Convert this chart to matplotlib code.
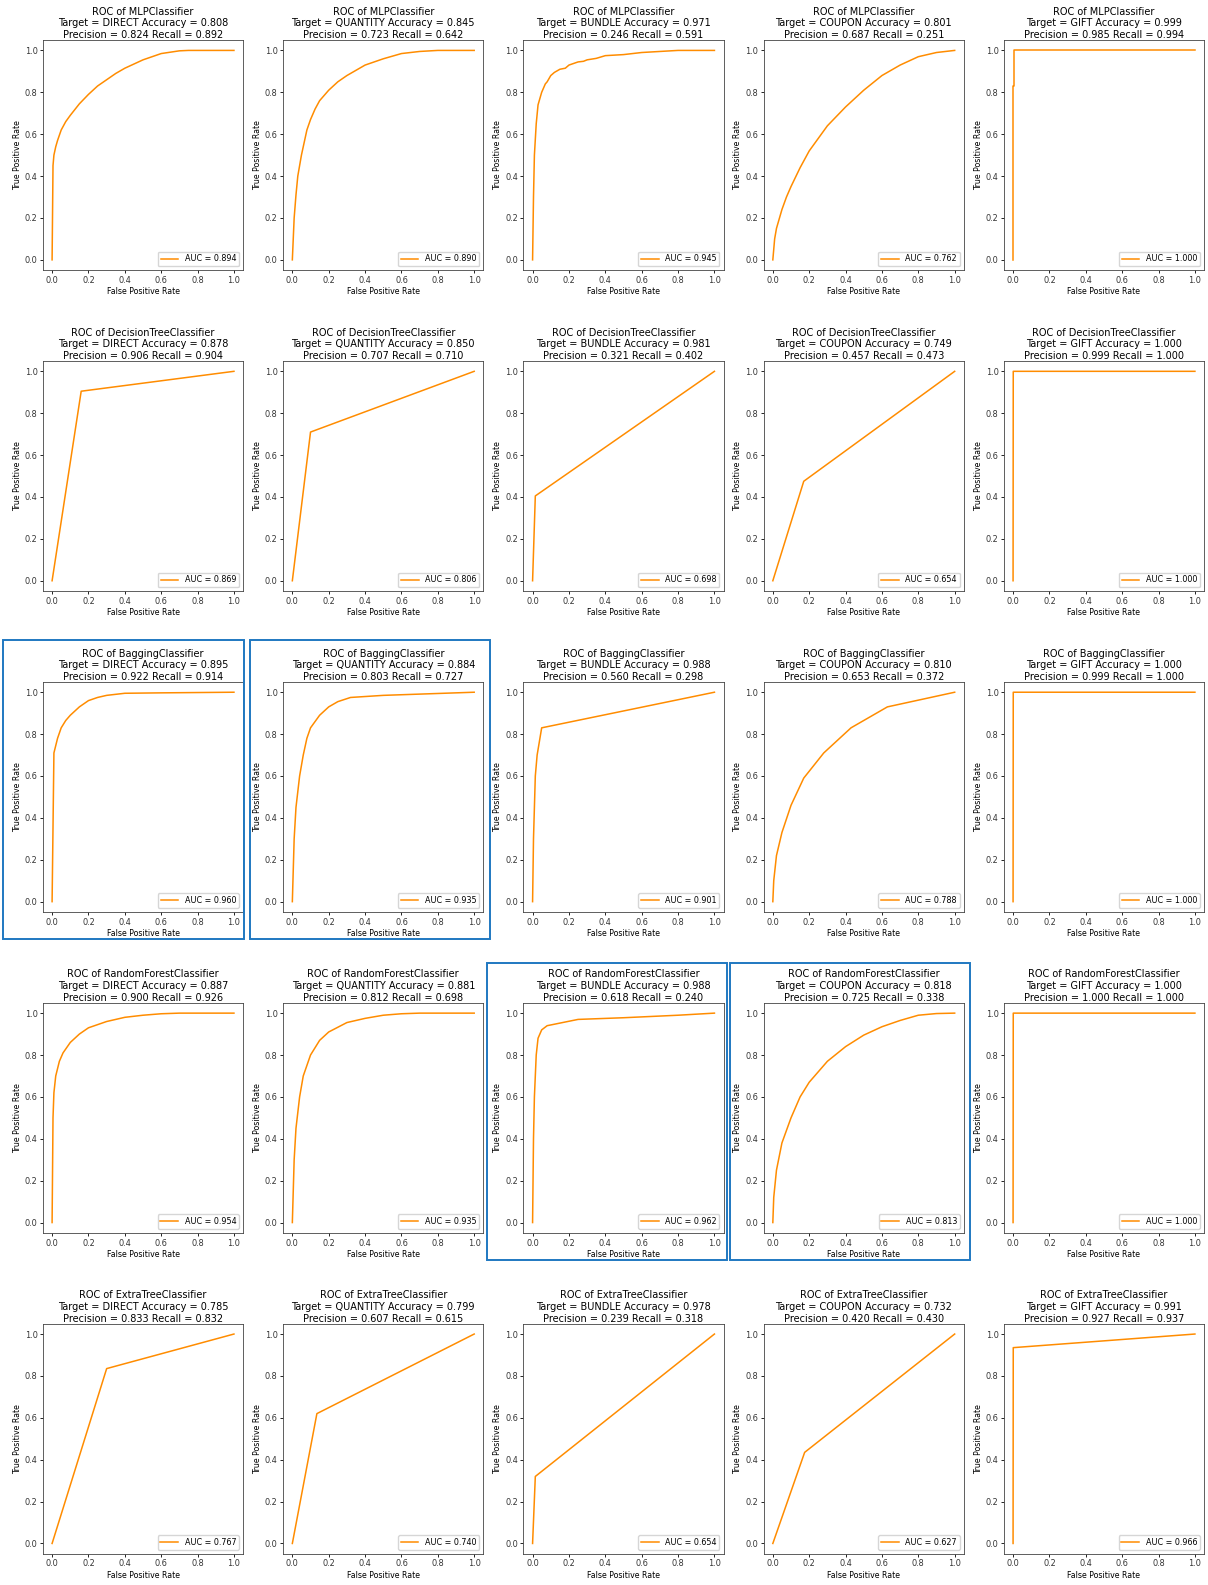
import matplotlib

matplotlib.use("Agg")
import matplotlib.pyplot as plt
from matplotlib.patches import Rectangle

models = ["MLPClassifier", "DecisionTreeClassifier", "BaggingClassifier",
          "RandomForestClassifier", "ExtraTreeClassifier"]
targets = ["DIRECT", "QUANTITY", "BUNDLE", "COUPON", "GIFT"]

accuracy = [
    [0.808, 0.845, 0.971, 0.801, 0.999],
    [0.878, 0.850, 0.981, 0.749, 1.000],
    [0.895, 0.884, 0.988, 0.810, 1.000],
    [0.887, 0.881, 0.988, 0.818, 1.000],
    [0.785, 0.799, 0.978, 0.732, 0.991],
]
precision = [
    [0.824, 0.723, 0.246, 0.687, 0.985],
    [0.906, 0.707, 0.321, 0.457, 0.999],
    [0.922, 0.803, 0.560, 0.653, 0.999],
    [0.900, 0.812, 0.618, 0.725, 1.000],
    [0.833, 0.607, 0.239, 0.420, 0.927],
]
recall = [
    [0.892, 0.642, 0.591, 0.251, 0.994],
    [0.904, 0.710, 0.402, 0.473, 1.000],
    [0.914, 0.727, 0.298, 0.372, 1.000],
    [0.926, 0.698, 0.240, 0.338, 1.000],
    [0.832, 0.615, 0.318, 0.430, 0.937],
]
auc = [
    [0.894, 0.890, 0.945, 0.762, 1.000],
    [0.869, 0.806, 0.698, 0.654, 1.000],
    [0.960, 0.935, 0.901, 0.788, 1.000],
    [0.954, 0.935, 0.962, 0.813, 1.000],
    [0.767, 0.740, 0.654, 0.627, 0.966],
]

# (fpr, tpr)
curves = [
    [
        ([0, 0.005, 0.01, 0.02, 0.03, 0.05, 0.075, 0.1, 0.15, 0.2, 0.25, 0.3, 0.35, 0.4, 0.5, 0.6, 0.7, 0.75, 1.0],
         [0, 0.45, 0.5, 0.54, 0.57, 0.62, 0.66, 0.69, 0.745, 0.79, 0.83, 0.86, 0.89, 0.915, 0.955, 0.985, 0.998, 1.0, 1.0]),
        ([0, 0.01, 0.02, 0.03, 0.05, 0.08, 0.1, 0.125, 0.15, 0.2, 0.25, 0.3, 0.4, 0.5, 0.6, 0.7, 0.8, 1.0],
         [0, 0.2, 0.31, 0.4, 0.5, 0.62, 0.67, 0.72, 0.76, 0.81, 0.85, 0.88, 0.93, 0.96, 0.985, 0.995, 1.0, 1.0]),
        ([0, 0.005, 0.01, 0.02, 0.03, 0.05, 0.07, 0.08, 0.1, 0.12, 0.15, 0.18, 0.2, 0.25, 0.28, 0.3, 0.35, 0.4, 0.5, 0.6, 0.7, 0.8, 1.0],
         [0, 0.3, 0.5, 0.65, 0.74, 0.8, 0.84, 0.85, 0.88, 0.895, 0.91, 0.915, 0.93, 0.945, 0.948, 0.955, 0.962, 0.975, 0.98, 0.99, 0.995, 1.0, 1.0]),
        ([0, 0.005, 0.01, 0.02, 0.03, 0.05, 0.075, 0.1, 0.15, 0.2, 0.25, 0.3, 0.4, 0.5, 0.6, 0.7, 0.8, 0.9, 1.0],
         [0, 0.05, 0.1, 0.15, 0.18, 0.24, 0.3, 0.35, 0.44, 0.52, 0.58, 0.64, 0.73, 0.81, 0.88, 0.93, 0.97, 0.99, 1.0]),
        ([0, 0, 0.005, 0.005, 1.0],
         [0, 0.83, 0.83, 1.0, 1.0]),
    ],
    [
        ([0, 0.16, 1.0], [0, 0.905, 1.0]),
        ([0, 0.1, 1.0], [0, 0.71, 1.0]),
        ([0, 0.015, 1.0], [0, 0.405, 1.0]),
        ([0, 0.17, 1.0], [0, 0.475, 1.0]),
        ([0, 0.001, 1.0], [0, 1.0, 1.0]),
    ],
    [
        ([0, 0.01, 0.02, 0.03, 0.05, 0.075, 0.1, 0.15, 0.2, 0.25, 0.3, 0.4, 0.6, 1.0],
         [0, 0.71, 0.745, 0.78, 0.83, 0.865, 0.89, 0.93, 0.96, 0.975, 0.985, 0.995, 0.997, 1.0]),
        ([0, 0.01, 0.02, 0.04, 0.06, 0.08, 0.1, 0.15, 0.2, 0.25, 0.32, 0.5, 1.0],
         [0, 0.3, 0.45, 0.6, 0.7, 0.78, 0.83, 0.89, 0.93, 0.955, 0.975, 0.985, 1.0]),
        ([0, 0.005, 0.015, 0.025, 0.05, 1.0],
         [0, 0.3, 0.6, 0.7, 0.83, 1.0]),
        ([0, 0.005, 0.02, 0.05, 0.1, 0.17, 0.28, 0.43, 0.63, 1.0],
         [0, 0.1, 0.22, 0.33, 0.46, 0.59, 0.71, 0.83, 0.93, 1.0]),
        ([0, 0.001, 1.0], [0, 1.0, 1.0]),
    ],
    [
        ([0, 0.005, 0.01, 0.02, 0.04, 0.06, 0.1, 0.15, 0.2, 0.3, 0.4, 0.5, 0.6, 0.7, 1.0],
         [0, 0.5, 0.62, 0.7, 0.77, 0.81, 0.86, 0.9, 0.93, 0.96, 0.98, 0.99, 0.997, 1.0, 1.0]),
        ([0, 0.01, 0.02, 0.04, 0.06, 0.1, 0.15, 0.2, 0.3, 0.4, 0.5, 0.6, 0.7, 1.0],
         [0, 0.3, 0.45, 0.6, 0.7, 0.8, 0.87, 0.91, 0.955, 0.975, 0.99, 0.997, 1.0, 1.0]),
        ([0, 0.005, 0.01, 0.02, 0.03, 0.05, 0.08, 0.25, 0.5, 0.8, 1.0],
         [0, 0.4, 0.6, 0.8, 0.88, 0.92, 0.94, 0.97, 0.978, 0.99, 1.0]),
        ([0, 0.005, 0.02, 0.05, 0.1, 0.15, 0.2, 0.3, 0.4, 0.5, 0.6, 0.7, 0.8, 0.9, 1.0],
         [0, 0.12, 0.25, 0.38, 0.5, 0.6, 0.67, 0.77, 0.84, 0.895, 0.935, 0.965, 0.99, 0.998, 1.0]),
        ([0, 0.001, 1.0], [0, 1.0, 1.0]),
    ],
    [
        ([0, 0.3, 1.0], [0, 0.835, 1.0]),
        ([0, 0.135, 1.0], [0, 0.62, 1.0]),
        ([0, 0.015, 1.0], [0, 0.32, 1.0]),
        ([0, 0.175, 1.0], [0, 0.435, 1.0]),
        ([0, 0.001, 1.0], [0, 0.935, 1.0]),
    ],
]

# hand-drawn highlight boxes, (left, top, right, bottom) in image pixels
highlight_boxes = [
    (3, 640, 244, 939),
    (250, 640, 490, 939),
    (487, 963, 727, 1260),
    (730, 963, 970, 1260),
]

W_PX, H_PX = 1208, 1585

plt.rcParams["font.size"] = 5.8
fig, axes = plt.subplots(5, 5, figsize=(W_PX / 100, H_PX / 100), dpi=100)
fig.subplots_adjust(left=0.0356, right=0.9967, top=0.9748, bottom=0.0196,
                    wspace=0.201, hspace=0.393)

for i, model in enumerate(models):
    for j, target in enumerate(targets):
        ax = axes[i][j]
        fpr, tpr = curves[i][j]
        ax.plot(fpr, tpr, color="darkorange", lw=1.1, label=f"AUC = {auc[i][j]:.3f}")
        ax.set_xlim(-0.05, 1.05)
        ax.set_ylim(-0.05, 1.05)
        ax.set_xlabel("False Positive Rate", fontsize=5.7, labelpad=1.5)
        ax.set_ylabel("True Positive Rate", fontsize=5.7, labelpad=2)
        ax.tick_params(labelsize=5.9, length=2.5, width=0.6, pad=1.5,
                       labelcolor="#333333")
        for spine in ax.spines.values():
            spine.set_linewidth(0.6)
            spine.set_color("#444444")
        ax.set_title(f"ROC of {model}\nTarget = {target} Accuracy = {accuracy[i][j]:.3f}\n"
                     f"Precision = {precision[i][j]:.3f} Recall = {recall[i][j]:.3f}",
                     fontsize=7.05, pad=1.2, linespacing=1.2)
        ax.legend(loc="lower right", fontsize=5.8, handlelength=2.2, borderpad=0.35)

for left, top, right, bottom in highlight_boxes:
    fig.patches.append(Rectangle((left / W_PX, 1 - bottom / H_PX),
                                 (right - left) / W_PX, (bottom - top) / H_PX,
                                 transform=fig.transFigure, fill=False,
                                 edgecolor="#1f78c1", lw=1.4))

fig.savefig("out.png", dpi=100)
